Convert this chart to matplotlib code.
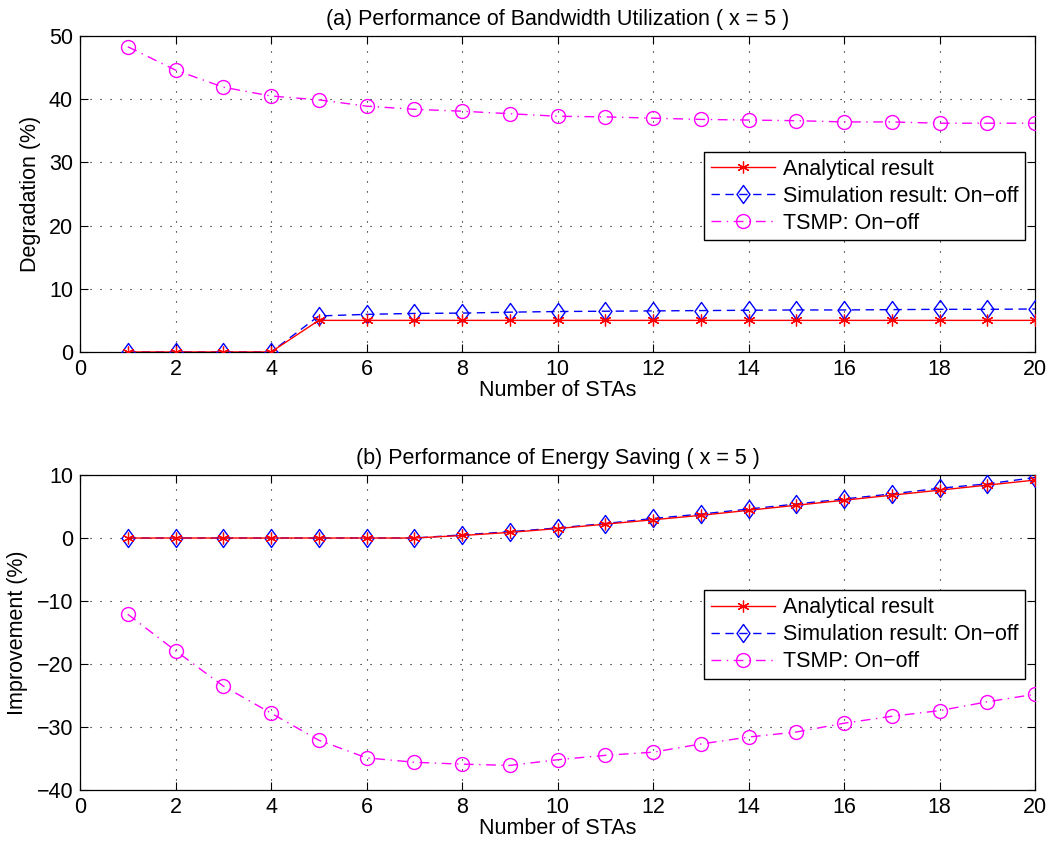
import matplotlib
matplotlib.use("Agg")
import matplotlib.pyplot as plt
from matplotlib.path import Path

plt.rcParams['font.family'] = ['Liberation Sans', 'DejaVu Sans']
plt.rcParams['font.size'] = 15.5

stas = list(range(1, 21))

# (a) bandwidth utilization degradation (%)
bw_analytical = [0, 0, 0, 0, 5, 5, 5, 5, 5, 5, 5, 5, 5, 5, 5, 5, 5, 5, 5, 5]
bw_simulation = [0, 0, 0, 0, 5.7, 5.95, 6.1, 6.15, 6.3, 6.4, 6.45, 6.5, 6.55, 6.6,
                 6.65, 6.65, 6.7, 6.75, 6.75, 6.8]
bw_tsmp = [48.3, 44.6, 41.9, 40.5, 39.9, 38.9, 38.4, 38.1, 37.7, 37.3, 37.2, 37.0,
           36.8, 36.7, 36.6, 36.4, 36.4, 36.2, 36.2, 36.2]

# (b) energy saving improvement (%)
es_analytical = [0, 0, 0, 0, 0, 0, 0, 0.4, 0.9, 1.5, 2.2, 2.9, 3.6, 4.4, 5.2,
                 6.0, 6.8, 7.6, 8.4, 9.2]
es_simulation = [0, 0, 0, 0, 0, 0, 0, 0.5, 1.0, 1.6, 2.3, 3.1, 3.8, 4.6, 5.4,
                 6.2, 7.0, 7.9, 8.6, 9.6]
es_tsmp = [-12.1, -17.9, -23.5, -27.8, -32.1, -34.9, -35.6, -35.9, -36.1, -35.2,
           -34.5, -34.0, -32.7, -31.6, -30.8, -29.4, -28.3, -27.4, -26.0, -24.8]

labels = ["Analytical result", "Simulation result: On\u2212off", "TSMP: On\u2212off"]
xticks = list(range(0, 21, 2))

diamond = Path([(0, 1), (0.72, 0), (0, -1), (-0.72, 0), (0, 1)],
               [Path.MOVETO, Path.LINETO, Path.LINETO, Path.LINETO, Path.CLOSEPOLY])
asterisk = (6, 2, 0)

fig = plt.figure(figsize=(10.56, 8.51), dpi=100)
ax1 = fig.add_axes([0.0758, 0.5864, 0.9044, 0.3713])
ax2 = fig.add_axes([0.0758, 0.0717, 0.9044, 0.3701])


def draw(ax, ana, sim, tsmp, title, ylabel, ylim, yticks):
    ax.plot(stas, ana, color='red', lw=1.0, marker=asterisk, markersize=8.5,
            markeredgewidth=0.9, label=labels[0], zorder=4)
    ax.plot(stas, sim, color='blue', lw=1.0, dashes=(6, 4), marker=diamond,
            markersize=13, markerfacecolor='none', markeredgecolor='blue',
            markeredgewidth=1.0, label=labels[1], zorder=3)
    ax.plot(stas, tsmp, color='magenta', lw=1.0, dashes=(7, 4, 1, 4), marker='o',
            markersize=10, markerfacecolor='none', markeredgecolor='magenta',
            markeredgewidth=1.0, label=labels[2], zorder=3)
    ax.set_xlim(0, 20)
    ax.set_ylim(*ylim)
    ax.set_xticks(xticks)
    ax.set_yticks(yticks)
    ax.grid(True, color='black', linestyle=(0, (1, 8)), linewidth=0.8)
    ax.tick_params(direction='in', length=6, width=0.8, top=True, right=True,
                   labelsize=15.5, pad=5)
    for sp in ax.spines.values():
        sp.set_linewidth(0.9)
    ax.set_title(title, fontsize=15.5, pad=8)
    ax.set_xlabel("Number of STAs", fontsize=15.5, labelpad=0)
    ax.set_ylabel(ylabel, fontsize=15.5, labelpad=6)
    leg = ax.legend(loc='upper right', bbox_to_anchor=(0.9895, 0.634),
                    borderaxespad=0, fancybox=False, framealpha=1,
                    edgecolor='black', handlelength=3.0, handletextpad=0.35,
                    labelspacing=0.28, borderpad=0.32, fontsize=15.5)
    leg.get_frame().set_linewidth(1.0)


draw(ax1, bw_analytical, bw_simulation, bw_tsmp,
     "(a) Performance of Bandwidth Utilization ( x = 5 )", "Degradation (%)",
     (0, 50), list(range(0, 51, 10)))
draw(ax2, es_analytical, es_simulation, es_tsmp,
     "(b) Performance of Energy Saving ( x = 5 )", "Improvement (%)",
     (-40, 10), list(range(-40, 11, 10)))

fig.savefig("out.png", dpi=100)
